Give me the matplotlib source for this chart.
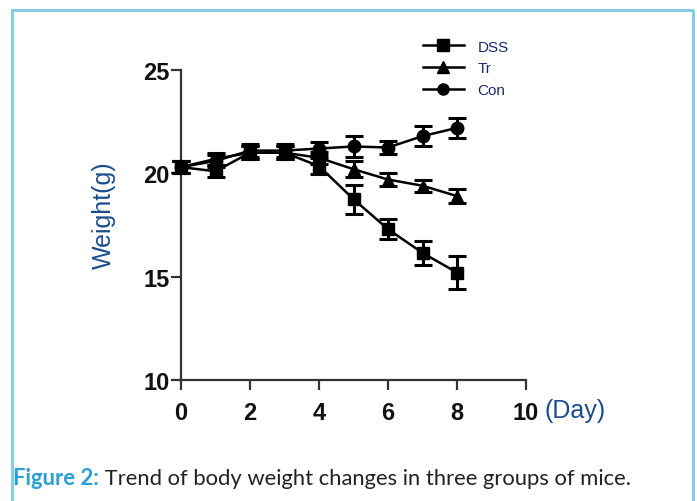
import matplotlib
matplotlib.use("Agg")
import matplotlib.pyplot as plt
from matplotlib.lines import Line2D
from matplotlib.patches import Rectangle

days = [0, 1, 2, 3, 4, 5, 6, 7, 8]
dss = [20.3, 20.1, 21.0, 21.0, 20.35, 18.75, 17.3, 16.15, 15.2]
dss_err = [0.3, 0.3, 0.3, 0.3, 0.4, 0.7, 0.5, 0.6, 0.8]
tr = [20.3, 20.7, 21.0, 21.0, 20.75, 20.2, 19.7, 19.4, 18.9]
tr_err = [0.3, 0.3, 0.3, 0.3, 0.3, 0.4, 0.3, 0.3, 0.35]
con = [20.3, 20.6, 21.1, 21.1, 21.2, 21.3, 21.25, 21.8, 22.2]
con_err = [0.3, 0.3, 0.3, 0.3, 0.3, 0.5, 0.3, 0.5, 0.5]
labels = ["DSS", "Tr", "Con"]
xticks = [0, 2, 4, 6, 8, 10]
yticks = [10, 15, 20, 25]

W, H = 697, 502
fig = plt.figure(figsize=(W / 100, H / 100), dpi=100)

# light blue frame
for (x0, y0, w, h) in [(11, 0, 3, 491), (11, 489, 683, 3), (692, 0, 3, 491)]:
    fig.patches.append(Rectangle((x0 / W, y0 / H), w / W, h / H,
                                 transform=fig.transFigure, color="#86cde8", lw=0))

ax = fig.add_axes([181 / W, 1 - 381 / H, (526 - 181) / W, (381 - 71) / H])
ax.set_xlim(0, 10)
ax.set_ylim(10, 25)
for s in ["top", "right"]:
    ax.spines[s].set_visible(False)
for s in ["left", "bottom"]:
    ax.spines[s].set_linewidth(1.6)
    ax.spines[s].set_color("#333333")
ax.set_xticks(xticks)
ax.set_yticks(yticks)
ax.tick_params(direction="out", length=7, width=1.6, color="#333333")
ax.tick_params(axis="x", pad=8)
ax.tick_params(axis="y", pad=1)
for lab in ax.get_xticklabels() + ax.get_yticklabels():
    lab.set_fontfamily("Liberation Sans")
    lab.set_fontweight("bold")
    lab.set_fontsize(17)
    lab.set_color("#111111")

series = [(dss, dss_err, "s"), (tr, tr_err, "^"), (con, con_err, "o")]
for (vals, err, m), name in zip(series, labels):
    ax.errorbar(days, vals, yerr=err, color="black", marker=m, markersize=9,
                lw=1.8, elinewidth=2.2, capsize=6.5, capthick=2.2, clip_on=False,
                zorder=3)

handles = [Line2D([0], [0], color="black", marker=m, markersize=8, lw=1.8)
           for _, _, m in series]
leg = fig.legend(handles, labels, loc="upper left", bbox_to_anchor=(409 / W, 1 - 27 / H),
                 frameon=False, handlelength=2.7, handletextpad=0.9, labelspacing=0.5,
                 prop={"family": "Liberation Sans", "size": 11})
for t in leg.get_texts():
    t.set_color("#1a2a6a")

fig.text(104 / W, 1 - 215 / H, "Weight(g)", rotation=90, ha="center", va="center",
         fontsize=18, family="Liberation Sans", color="#1b4d8e")
fig.text(544 / W, 1 - 411 / H, "(Day)", ha="left", va="center",
         fontsize=18, family="Liberation Sans", color="#1b4d8e")

fs = 15.5
t1 = fig.text(13 / W, 1 - 479 / H, "Figure 2:", ha="left", va="center", fontsize=fs,
              family="Lato", color="#2a9fd6", fontweight="bold")
t2 = fig.text(0, 1 - 479 / H, " Trend of body weight changes in three groups of mice.",
              ha="left", va="center", fontsize=fs, family="Lato", color="#222222")
r = fig.canvas.get_renderer()
w1 = t1.get_window_extent(r).width
w2 = t2.get_window_extent(r).width
scale = (632 - 13) / (w1 + w2)
fs2 = fs * scale
t1.set_fontsize(fs2)
t2.set_fontsize(fs2)
w1 = t1.get_window_extent(r).width
t2.set_x((13 + w1) / W)

fig.savefig("out.png", dpi=100)
